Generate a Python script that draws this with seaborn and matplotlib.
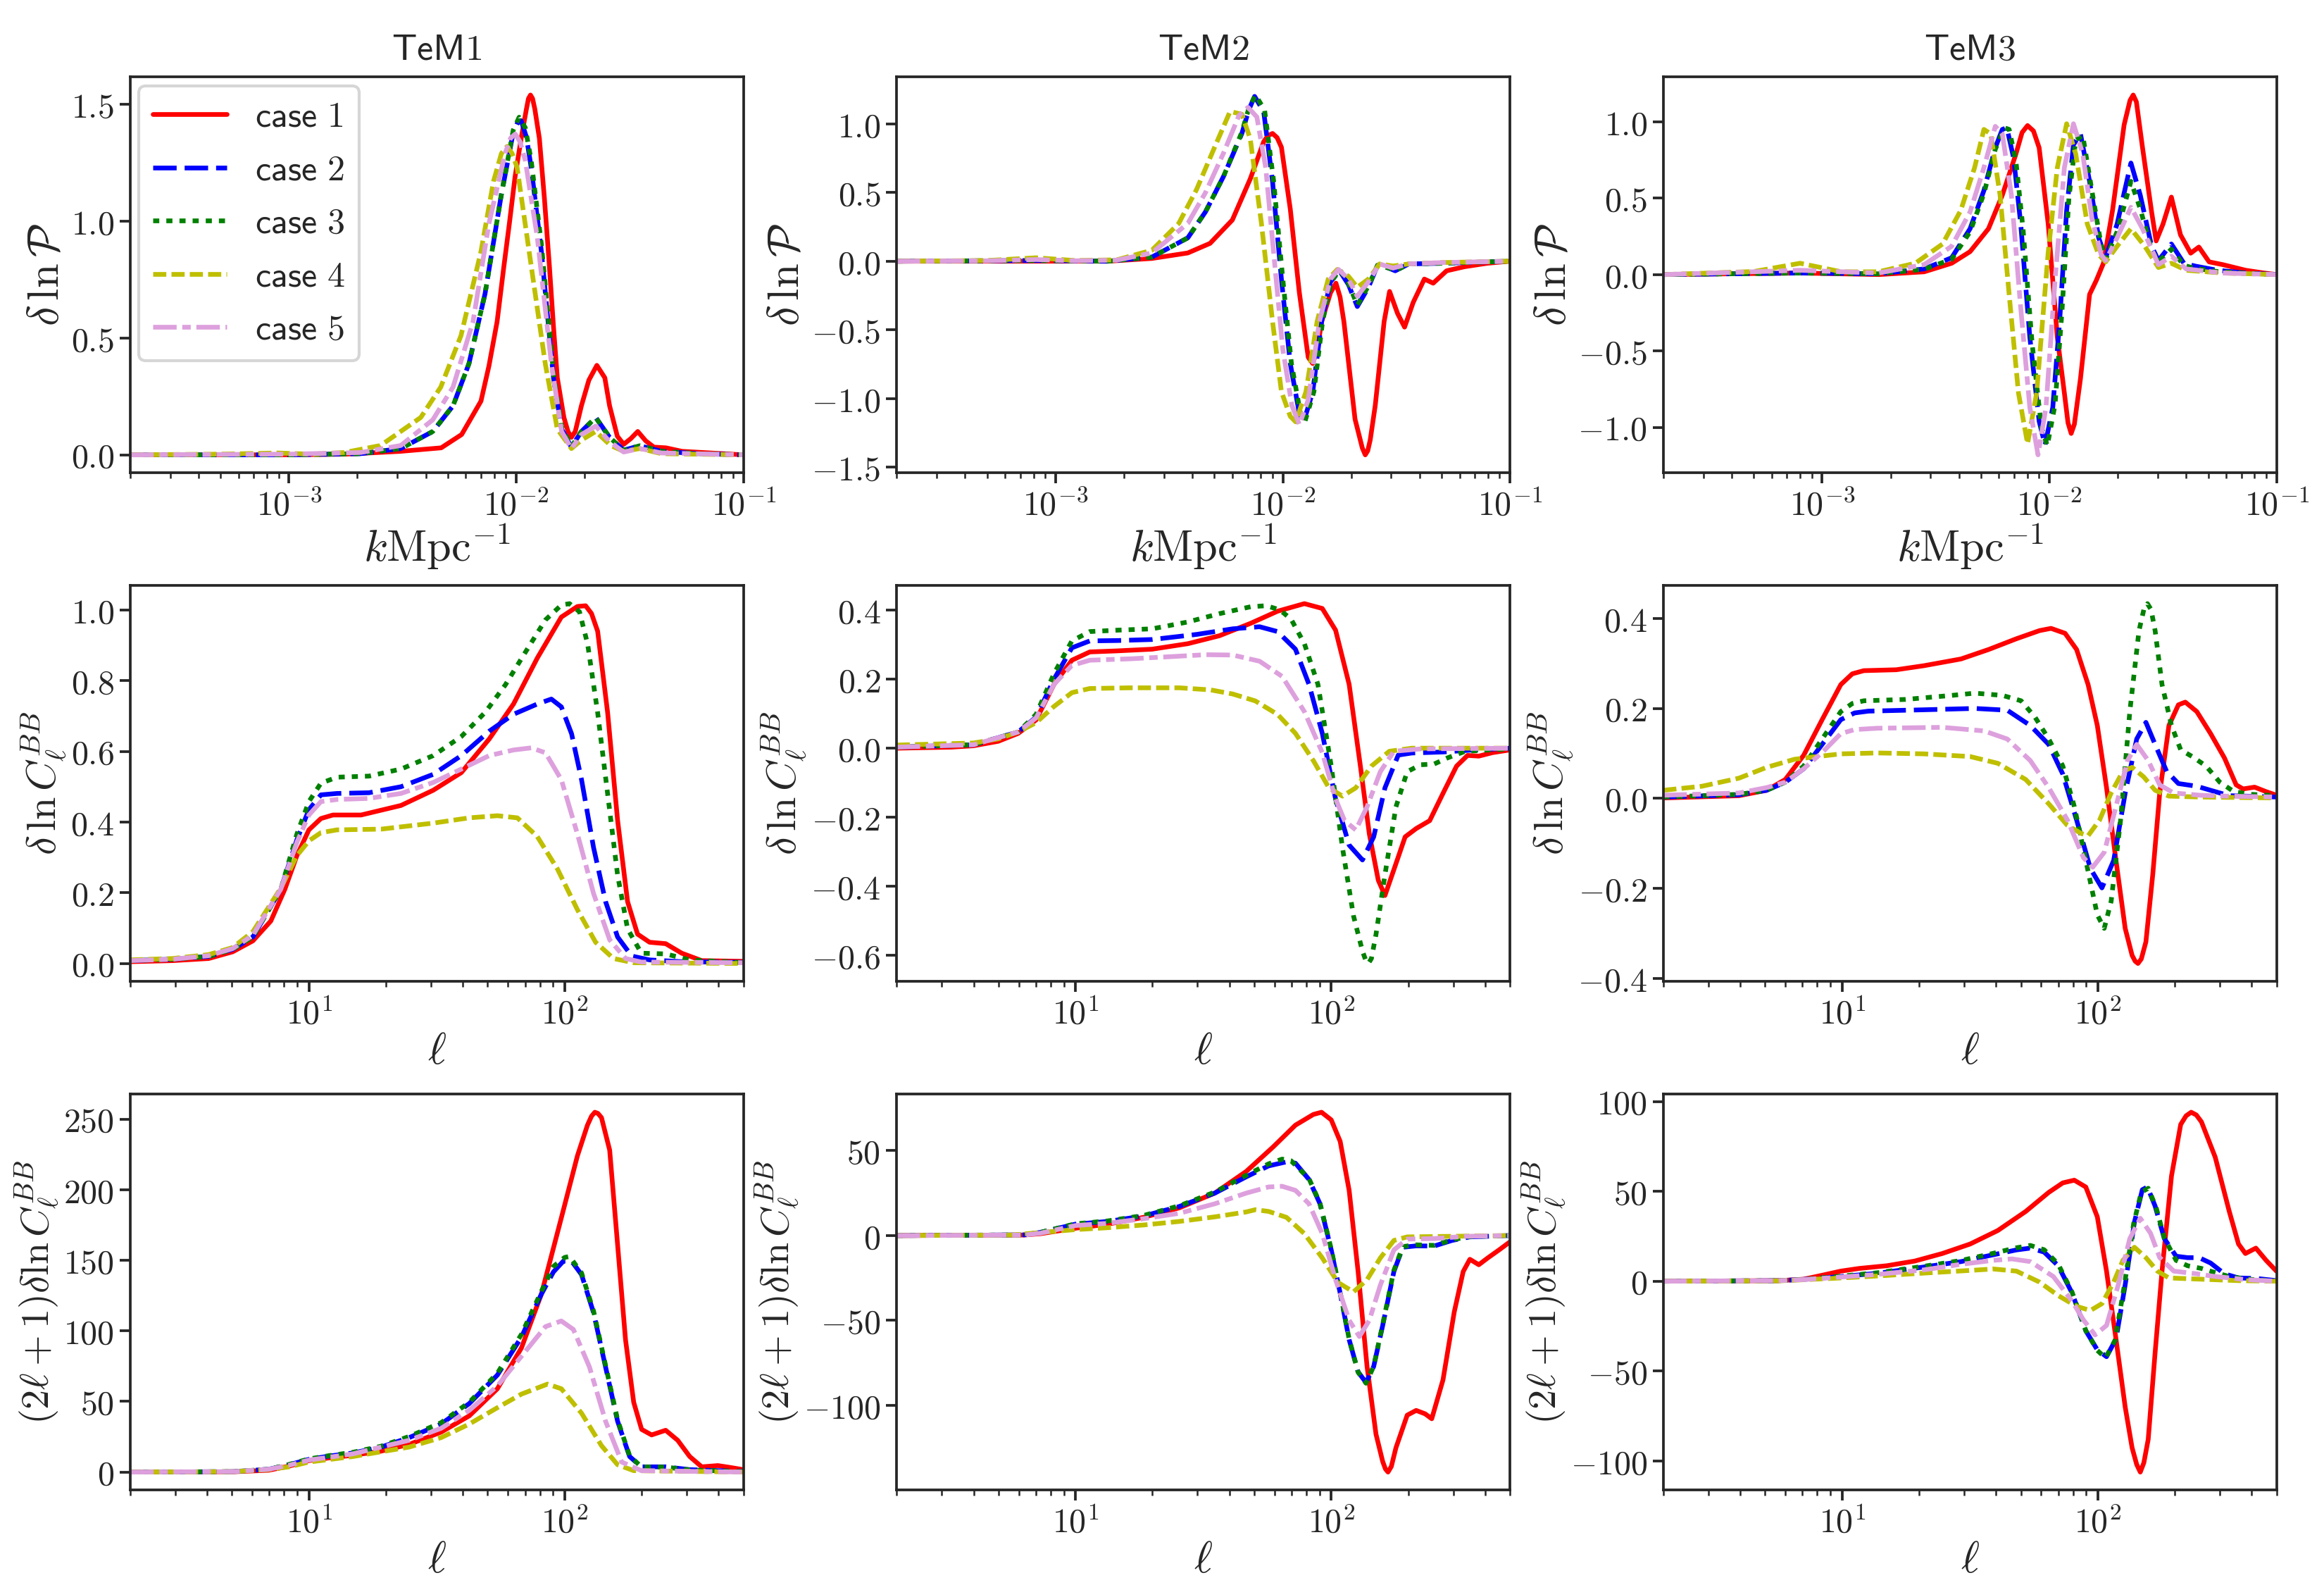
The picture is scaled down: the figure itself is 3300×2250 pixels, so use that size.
import matplotlib
matplotlib.use("Agg")
import matplotlib.pyplot as plt
from matplotlib.ticker import FuncFormatter, NullFormatter, MultipleLocator
import numpy as np
import seaborn as sns

# every curve: list of (log10 x, y) points
# --- row 1: delta ln P(k), x = log10(k / Mpc^-1)
tem1_pk_c1 = [(-3.699, 0), (-3.0, 0), (-2.75, 0.003), (-2.51, 0.015), (-2.33, 0.03), (-2.24, 0.087), (-2.155, 0.23), (-2.12, 0.38), (-2.084, 0.57), (-2.055, 0.80), (-2.03, 0.99), (-2.005, 1.19), (-1.978, 1.355), (-1.955, 1.48), (-1.946, 1.525), (-1.937, 1.54), (-1.928, 1.525), (-1.918, 1.48), (-1.898, 1.355), (-1.876, 1.10), (-1.854, 0.81), (-1.836, 0.55), (-1.819, 0.33), (-1.79, 0.16), (-1.772, 0.10), (-1.757, 0.075), (-1.74, 0.10), (-1.713, 0.21), (-1.68, 0.32), (-1.645, 0.383), (-1.61, 0.33), (-1.589, 0.21), (-1.555, 0.08), (-1.527, 0.045), (-1.495, 0.07), (-1.465, 0.10), (-1.43, 0.06), (-1.394, 0.033), (-1.341, 0.03), (-1.27, 0.015), (-1.0, 0.0)]
tem1_pk_c2 = [(-3.699, 0), (-3.0, 0), (-2.685, 0.005), (-2.508, 0.027), (-2.367, 0.10), (-2.278, 0.21), (-2.208, 0.39), (-2.137, 0.69), (-2.066, 1.11), (-2.013, 1.38), (-1.995, 1.42), (-1.978, 1.43), (-1.955, 1.36), (-1.934, 1.23), (-1.889, 0.87), (-1.836, 0.33), (-1.80, 0.11), (-1.757, 0.033), (-1.713, 0.10), (-1.65, 0.16), (-1.589, 0.075), (-1.527, 0.02), (-1.456, 0.039), (-1.36, 0.015), (-1.2, 0.005), (-1.0, 0)]
tem1_pk_c3 = [(-3.699, 0), (-3.0, 0), (-2.685, 0.005), (-2.508, 0.027), (-2.367, 0.10), (-2.278, 0.21), (-2.208, 0.39), (-2.137, 0.69), (-2.066, 1.11), (-2.013, 1.39), (-1.987, 1.445), (-1.96, 1.40), (-1.934, 1.26), (-1.889, 0.90), (-1.836, 0.35), (-1.80, 0.12), (-1.757, 0.035), (-1.713, 0.10), (-1.65, 0.16), (-1.589, 0.075), (-1.527, 0.02), (-1.456, 0.039), (-1.36, 0.015), (-1.2, 0.005), (-1.0, 0)]
tem1_pk_c4 = [(-3.699, 0), (-3.3, 0.003), (-3.05, 0.008), (-2.9, 0.003), (-2.756, 0.01), (-2.597, 0.04), (-2.42, 0.16), (-2.332, 0.29), (-2.243, 0.51), (-2.155, 0.87), (-2.10, 1.17), (-2.065, 1.29), (-2.04, 1.32), (-2.018, 1.29), (-1.996, 1.23), (-1.943, 0.87), (-1.872, 0.39), (-1.819, 0.11), (-1.757, 0.027), (-1.713, 0.063), (-1.65, 0.10), (-1.584, 0.04), (-1.527, 0.015), (-1.456, 0.027), (-1.36, 0.005), (-1.0, 0)]
tem1_pk_c5 = [(-3.699, 0), (-3.0, 0.003), (-2.685, 0.01), (-2.508, 0.04), (-2.367, 0.15), (-2.278, 0.29), (-2.19, 0.57), (-2.12, 0.99), (-2.049, 1.29), (-2.025, 1.355), (-2.004, 1.373), (-1.983, 1.34), (-1.96, 1.26), (-1.907, 0.93), (-1.845, 0.39), (-1.80, 0.10), (-1.757, 0.027), (-1.713, 0.087), (-1.65, 0.123), (-1.589, 0.057), (-1.527, 0.012), (-1.456, 0.027), (-1.36, 0.008), (-1.0, 0)]

tem2_pk_c1 = [(-3.699, 0), (-2.77, 0), (-2.576, 0.02), (-2.418, 0.06), (-2.32, 0.13), (-2.222, 0.30), (-2.143, 0.60), (-2.084, 0.87), (-2.065, 0.915), (-2.045, 0.93), (-2.025, 0.90), (-2.006, 0.83), (-1.967, 0.38), (-1.927, -0.23), (-1.888, -0.70), (-1.868, -0.745), (-1.848, -0.64), (-1.829, -0.44), (-1.79, -0.23), (-1.766, -0.16), (-1.748, -0.26), (-1.731, -0.44), (-1.682, -1.15), (-1.65, -1.36), (-1.637, -1.41), (-1.626, -1.38), (-1.615, -1.30), (-1.593, -1.05), (-1.554, -0.44), (-1.53, -0.22), (-1.495, -0.38), (-1.464, -0.48), (-1.426, -0.30), (-1.377, -0.13), (-1.338, -0.16), (-1.279, -0.07), (-1.2, -0.04), (-1.1, -0.015), (-1.0, 0)]
tem2_pk_c2 = [(-3.699, 0), (-3.086, 0.005), (-2.77, 0), (-2.576, 0.03), (-2.418, 0.17), (-2.34, 0.36), (-2.26, 0.62), (-2.18, 0.93), (-2.15, 1.10), (-2.124, 1.20), (-2.084, 1.09), (-2.045, 0.58), (-2.006, -0.13), (-1.967, -0.745), (-1.927, -1.11), (-1.908, -1.17), (-1.868, -0.95), (-1.829, -0.44), (-1.79, -0.15), (-1.75, -0.07), (-1.711, -0.17), (-1.672, -0.33), (-1.623, -0.19), (-1.583, -0.03), (-1.534, -0.05), (-1.505, -0.07), (-1.446, -0.02), (-1.3, -0.015), (-1.0, 0)]
tem2_pk_c3 = [(-3.699, 0), (-3.086, 0.005), (-2.77, 0), (-2.576, 0.03), (-2.418, 0.17), (-2.34, 0.36), (-2.26, 0.62), (-2.18, 0.94), (-2.15, 1.11), (-2.12, 1.21), (-2.08, 1.10), (-2.04, 0.58), (-2.0, -0.13), (-1.962, -0.745), (-1.922, -1.11), (-1.903, -1.17), (-1.863, -0.95), (-1.825, -0.44), (-1.787, -0.15), (-1.75, -0.06), (-1.711, -0.16), (-1.672, -0.32), (-1.623, -0.18), (-1.583, -0.03), (-1.534, -0.05), (-1.505, -0.07), (-1.446, -0.02), (-1.3, -0.015), (-1.0, 0)]
tem2_pk_c4 = [(-3.699, 0), (-3.3, 0.005), (-3.086, 0.025), (-2.915, 0.005), (-2.73, 0.01), (-2.576, 0.08), (-2.458, 0.275), (-2.38, 0.52), (-2.30, 0.83), (-2.232, 1.09), (-2.18, 1.07), (-2.143, 0.89), (-2.094, 0.275), (-2.045, -0.44), (-2.006, -0.95), (-1.967, -1.13), (-1.943, -1.17), (-1.898, -0.95), (-1.849, -0.44), (-1.80, -0.13), (-1.76, -0.06), (-1.711, -0.11), (-1.672, -0.19), (-1.623, -0.13), (-1.574, -0.02), (-1.515, -0.035), (-1.446, -0.02), (-1.3, -0.01), (-1.0, 0)]
tem2_pk_c5 = [(-3.699, 0), (-3.3, 0.003), (-3.086, 0.012), (-2.915, 0.003), (-2.73, 0.008), (-2.576, 0.06), (-2.418, 0.275), (-2.34, 0.50), (-2.26, 0.79), (-2.193, 1.06), (-2.153, 1.12), (-2.114, 1.05), (-2.075, 0.68), (-2.035, -0.03), (-2.0, -0.64), (-1.96, -1.05), (-1.927, -1.19), (-1.888, -1.01), (-1.839, -0.44), (-1.79, -0.13), (-1.755, -0.06), (-1.711, -0.13), (-1.672, -0.255), (-1.623, -0.15), (-1.574, -0.02), (-1.515, -0.05), (-1.446, -0.02), (-1.3, -0.01), (-1.0, 0)]

tem3_pk_c1 = [(-3.699, 0), (-3.097, 0.01), (-2.75, 0.0), (-2.551, 0.018), (-2.43, 0.074), (-2.349, 0.15), (-2.268, 0.30), (-2.207, 0.52), (-2.147, 0.79), (-2.12, 0.93), (-2.096, 0.975), (-2.07, 0.94), (-2.045, 0.83), (-2.005, 0.33), (-1.965, -0.41), (-1.934, -0.775), (-1.918, -0.97), (-1.904, -1.04), (-1.89, -0.98), (-1.863, -0.68), (-1.823, -0.13), (-1.793, -0.037), (-1.762, 0.074), (-1.722, 0.42), (-1.671, 0.98), (-1.645, 1.14), (-1.631, 1.175), (-1.617, 1.13), (-1.59, 0.83), (-1.55, 0.41), (-1.53, 0.22), (-1.50, 0.33), (-1.463, 0.507), (-1.423, 0.26), (-1.378, 0.14), (-1.342, 0.18), (-1.297, 0.083), (-1.237, 0.065), (-1.136, 0.028), (-1.055, 0.01), (-1.0, 0)]
tem3_pk_c2 = [(-3.699, 0), (-3.097, 0.01), (-2.753, 0.005), (-2.551, 0.037), (-2.43, 0.11), (-2.349, 0.30), (-2.288, 0.55), (-2.238, 0.83), (-2.207, 0.95), (-2.187, 0.96), (-2.157, 0.76), (-2.126, 0.33), (-2.086, -0.41), (-2.045, -0.96), (-2.019, -1.116), (-1.985, -0.87), (-1.955, -0.31), (-1.924, 0.42), (-1.894, 0.85), (-1.863, 0.92), (-1.823, 0.61), (-1.783, 0.24), (-1.752, 0.11), (-1.702, 0.33), (-1.641, 0.73), (-1.60, 0.52), (-1.55, 0.185), (-1.52, 0.092), (-1.463, 0.20), (-1.408, 0.074), (-1.357, 0.055), (-1.26, 0.028), (-1.136, 0.01), (-1.0, 0)]
tem3_pk_c3 = [(-3.699, 0), (-3.097, 0.01), (-2.753, 0.005), (-2.551, 0.035), (-2.43, 0.10), (-2.349, 0.28), (-2.288, 0.53), (-2.238, 0.82), (-2.197, 0.96), (-2.177, 0.95), (-2.147, 0.74), (-2.116, 0.30), (-2.076, -0.45), (-2.035, -1.00), (-2.009, -1.12), (-1.975, -0.85), (-1.945, -0.25), (-1.914, 0.50), (-1.884, 0.88), (-1.853, 0.91), (-1.813, 0.55), (-1.773, 0.20), (-1.752, 0.10), (-1.702, 0.28), (-1.641, 0.61), (-1.60, 0.43), (-1.55, 0.16), (-1.52, 0.085), (-1.463, 0.166), (-1.408, 0.06), (-1.357, 0.04), (-1.26, 0.02), (-1.136, 0.008), (-1.0, 0)]
tem3_pk_c4 = [(-3.699, 0), (-3.30, 0.02), (-3.097, 0.074), (-2.915, 0.018), (-2.753, 0.018), (-2.59, 0.074), (-2.47, 0.20), (-2.39, 0.42), (-2.329, 0.70), (-2.288, 0.95), (-2.258, 0.92), (-2.217, 0.52), (-2.177, -0.13), (-2.136, -0.775), (-2.096, -1.107), (-2.056, -0.775), (-2.005, 0.148), (-1.965, 0.70), (-1.924, 0.987), (-1.884, 0.79), (-1.833, 0.33), (-1.783, 0.13), (-1.752, 0.083), (-1.702, 0.185), (-1.641, 0.30), (-1.58, 0.185), (-1.52, 0.046), (-1.463, 0.074), (-1.398, 0.028), (-1.237, 0.01), (-1.0, 0)]
tem3_pk_c5 = [(-3.699, 0), (-3.097, 0.028), (-2.753, 0.01), (-2.551, 0.065), (-2.43, 0.185), (-2.349, 0.41), (-2.288, 0.70), (-2.238, 0.97), (-2.207, 0.92), (-2.167, 0.52), (-2.126, -0.22), (-2.086, -0.87), (-2.05, -1.18), (-2.015, -0.87), (-1.975, -0.037), (-1.934, 0.70), (-1.894, 0.987), (-1.853, 0.79), (-1.813, 0.37), (-1.772, 0.13), (-1.752, 0.092), (-1.702, 0.24), (-1.641, 0.44), (-1.59, 0.30), (-1.52, 0.065), (-1.463, 0.12), (-1.398, 0.037), (-1.237, 0.01), (-1.0, 0)]

# --- row 2: delta ln C_l^BB, x = log10(l)
tem1_cl_c1 = [(0.301, 0.005), (0.467, 0.008), (0.608, 0.014), (0.702, 0.033), (0.781, 0.064), (0.851, 0.12), (0.906, 0.21), (0.953, 0.305), (1.0, 0.378), (1.047, 0.41), (1.094, 0.42), (1.204, 0.42), (1.36, 0.447), (1.486, 0.49), (1.596, 0.54), (1.705, 0.635), (1.80, 0.734), (1.893, 0.864), (1.987, 0.98), (2.05, 1.01), (2.082, 1.012), (2.105, 0.99), (2.129, 0.94), (2.168, 0.71), (2.207, 0.405), (2.246, 0.175), (2.285, 0.083), (2.332, 0.06), (2.395, 0.056), (2.458, 0.029), (2.536, 0.008), (2.699, 0.006)]
tem1_cl_c2 = [(0.301, 0.008), (0.467, 0.012), (0.608, 0.02), (0.702, 0.04), (0.781, 0.075), (0.89, 0.21), (0.953, 0.35), (1.0, 0.435), (1.047, 0.477), (1.11, 0.481), (1.235, 0.483), (1.36, 0.50), (1.486, 0.535), (1.596, 0.588), (1.705, 0.657), (1.80, 0.705), (1.893, 0.734), (1.948, 0.748), (1.987, 0.726), (2.027, 0.65), (2.066, 0.52), (2.113, 0.328), (2.16, 0.175), (2.207, 0.075), (2.262, 0.021), (2.332, 0.01), (2.458, 0.005), (2.699, 0.003)]
tem1_cl_c3 = [(0.301, 0.008), (0.467, 0.012), (0.608, 0.02), (0.702, 0.04), (0.781, 0.075), (0.89, 0.21), (0.953, 0.366), (1.0, 0.458), (1.047, 0.51), (1.11, 0.527), (1.235, 0.53), (1.36, 0.55), (1.486, 0.588), (1.596, 0.642), (1.69, 0.711), (1.768, 0.788), (1.846, 0.88), (1.925, 0.972), (1.987, 1.014), (2.019, 1.018), (2.058, 0.995), (2.09, 0.903), (2.129, 0.71), (2.168, 0.48), (2.207, 0.25), (2.246, 0.098), (2.30, 0.029), (2.395, 0.027), (2.489, 0.01), (2.699, 0.002)]
tem1_cl_c4 = [(0.301, 0.01), (0.467, 0.014), (0.608, 0.025), (0.702, 0.045), (0.781, 0.09), (0.89, 0.213), (0.953, 0.305), (1.0, 0.347), (1.047, 0.37), (1.11, 0.378), (1.282, 0.38), (1.486, 0.397), (1.627, 0.412), (1.737, 0.418), (1.815, 0.412), (1.893, 0.359), (1.972, 0.267), (2.05, 0.152), (2.121, 0.06), (2.191, 0.014), (2.27, 0.002), (2.699, 0)]
tem1_cl_c5 = [(0.301, 0.008), (0.467, 0.012), (0.608, 0.022), (0.702, 0.042), (0.781, 0.08), (0.89, 0.21), (0.953, 0.343), (1.0, 0.42), (1.047, 0.458), (1.11, 0.464), (1.235, 0.467), (1.36, 0.481), (1.486, 0.512), (1.596, 0.55), (1.705, 0.588), (1.80, 0.604), (1.87, 0.61), (1.925, 0.596), (1.987, 0.52), (2.05, 0.366), (2.113, 0.198), (2.176, 0.067), (2.238, 0.014), (2.30, 0.004), (2.699, 0.002)]

tem2_cl_c1 = [(0.301, 0.0), (0.514, 0.003), (0.601, 0.007), (0.698, 0.02), (0.776, 0.043), (0.846, 0.082), (0.916, 0.185), (0.986, 0.255), (1.056, 0.279), (1.161, 0.282), (1.30, 0.287), (1.44, 0.303), (1.563, 0.326), (1.685, 0.362), (1.79, 0.397), (1.895, 0.419), (1.965, 0.405), (2.017, 0.342), (2.07, 0.185), (2.114, -0.052), (2.149, -0.249), (2.184, -0.383), (2.21, -0.427), (2.245, -0.352), (2.289, -0.257), (2.332, -0.233), (2.385, -0.21), (2.437, -0.131), (2.49, -0.052), (2.533, -0.021), (2.577, -0.023), (2.63, -0.013), (2.699, -0.005)]
tem2_cl_c2 = [(0.301, 0.003), (0.601, 0.01), (0.776, 0.047), (0.846, 0.09), (0.916, 0.20), (0.986, 0.291), (1.056, 0.311), (1.161, 0.312), (1.30, 0.315), (1.476, 0.33), (1.615, 0.346), (1.72, 0.352), (1.79, 0.338), (1.86, 0.287), (1.913, 0.185), (1.965, 0.043), (2.017, -0.147), (2.07, -0.281), (2.122, -0.324), (2.166, -0.257), (2.21, -0.115), (2.262, -0.02), (2.315, -0.014), (2.437, -0.011), (2.56, -0.005), (2.699, 0)]
tem2_cl_c3 = [(0.301, 0.003), (0.601, 0.01), (0.776, 0.047), (0.846, 0.098), (0.916, 0.216), (0.986, 0.311), (1.056, 0.338), (1.161, 0.342), (1.30, 0.346), (1.44, 0.366), (1.563, 0.39), (1.685, 0.41), (1.746, 0.413), (1.799, 0.401), (1.843, 0.374), (1.895, 0.303), (1.948, 0.185), (2.0, -0.052), (2.044, -0.289), (2.087, -0.486), (2.122, -0.588), (2.135, -0.615), (2.145, -0.624), (2.157, -0.61), (2.175, -0.54), (2.21, -0.367), (2.253, -0.17), (2.297, -0.068), (2.35, -0.048), (2.402, -0.046), (2.455, -0.028), (2.524, -0.009), (2.699, -0.002)]
tem2_cl_c4 = [(0.301, 0.009), (0.601, 0.015), (0.698, 0.027), (0.776, 0.047), (0.846, 0.074), (0.916, 0.121), (0.986, 0.161), (1.056, 0.173), (1.213, 0.175), (1.406, 0.175), (1.528, 0.169), (1.615, 0.157), (1.703, 0.137), (1.79, 0.098), (1.86, 0.043), (1.93, -0.036), (1.991, -0.115), (2.044, -0.139), (2.096, -0.115), (2.157, -0.052), (2.227, -0.009), (2.315, 0.0), (2.699, 0)]
tem2_cl_c5 = [(0.301, 0.003), (0.601, 0.01), (0.776, 0.047), (0.846, 0.088), (0.916, 0.185), (0.986, 0.24), (1.056, 0.255), (1.213, 0.259), (1.388, 0.266), (1.51, 0.271), (1.615, 0.27), (1.72, 0.252), (1.808, 0.208), (1.895, 0.106), (1.965, -0.013), (2.017, -0.147), (2.052, -0.21), (2.096, -0.237), (2.14, -0.17), (2.192, -0.068), (2.245, -0.009), (2.35, -0.002), (2.699, 0)]

tem3_cl_c1 = [(0.301, 0.001), (0.597, 0.006), (0.705, 0.018), (0.778, 0.042), (0.85, 0.096), (0.922, 0.175), (0.995, 0.253), (1.04, 0.277), (1.085, 0.284), (1.212, 0.286), (1.32, 0.295), (1.465, 0.31), (1.573, 0.331), (1.682, 0.355), (1.772, 0.373), (1.817, 0.378), (1.872, 0.367), (1.917, 0.331), (1.962, 0.253), (1.998, 0.162), (2.034, 0.024), (2.071, -0.138), (2.107, -0.289), (2.134, -0.349), (2.146, -0.362), (2.157, -0.367), (2.17, -0.357), (2.188, -0.319), (2.215, -0.168), (2.242, 0.012), (2.278, 0.162), (2.315, 0.208), (2.342, 0.214), (2.387, 0.193), (2.441, 0.144), (2.495, 0.09), (2.541, 0.03), (2.568, 0.021), (2.613, 0.025), (2.658, 0.015), (2.699, 0.007)]
tem3_cl_c2 = [(0.301, 0.003), (0.597, 0.008), (0.705, 0.018), (0.778, 0.036), (0.85, 0.066), (0.922, 0.12), (0.995, 0.175), (1.049, 0.19), (1.103, 0.194), (1.32, 0.197), (1.519, 0.20), (1.646, 0.196), (1.736, 0.162), (1.808, 0.12), (1.863, 0.054), (1.917, -0.048), (1.971, -0.156), (2.016, -0.199), (2.062, -0.138), (2.107, 0.012), (2.152, 0.132), (2.188, 0.169), (2.224, 0.12), (2.269, 0.06), (2.315, 0.033), (2.387, 0.027), (2.459, 0.015), (2.514, 0.006), (2.699, 0.003)]
tem3_cl_c3 = [(0.301, 0.003), (0.597, 0.009), (0.705, 0.018), (0.778, 0.036), (0.85, 0.072), (0.922, 0.132), (0.995, 0.193), (1.04, 0.211), (1.085, 0.217), (1.248, 0.22), (1.429, 0.229), (1.519, 0.234), (1.627, 0.229), (1.70, 0.217), (1.754, 0.181), (1.808, 0.132), (1.863, 0.072), (1.908, -0.018), (1.953, -0.138), (1.998, -0.259), (2.025, -0.289), (2.052, -0.229), (2.089, -0.048), (2.125, 0.193), (2.161, 0.373), (2.18, 0.42), (2.194, 0.433), (2.208, 0.42), (2.224, 0.373), (2.251, 0.253), (2.288, 0.162), (2.324, 0.108), (2.369, 0.093), (2.423, 0.072), (2.477, 0.036), (2.532, 0.015), (2.60, 0.009), (2.699, 0.006)]
tem3_cl_c4 = [(0.301, 0.018), (0.452, 0.027), (0.597, 0.045), (0.705, 0.069), (0.814, 0.087), (0.904, 0.093), (0.995, 0.099), (1.139, 0.101), (1.32, 0.099), (1.501, 0.093), (1.609, 0.078), (1.718, 0.042), (1.808, -0.012), (1.881, -0.06), (1.935, -0.078), (1.962, -0.083), (2.007, -0.048), (2.052, 0.012), (2.098, 0.06), (2.134, 0.069), (2.179, 0.048), (2.224, 0.018), (2.278, 0.005), (2.40, 0.003), (2.699, 0.001)]
tem3_cl_c5 = [(0.301, 0.007), (0.597, 0.012), (0.705, 0.024), (0.778, 0.036), (0.85, 0.066), (0.922, 0.102), (0.995, 0.144), (1.049, 0.153), (1.139, 0.156), (1.392, 0.158), (1.555, 0.15), (1.646, 0.132), (1.736, 0.084), (1.808, 0.024), (1.881, -0.048), (1.944, -0.132), (1.98, -0.153), (2.025, -0.12), (2.071, -0.018), (2.116, 0.084), (2.152, 0.12), (2.197, 0.084), (2.242, 0.03), (2.297, 0.012), (2.40, 0.007), (2.50, 0.005), (2.699, 0.003)]

# --- row 3: (2l+1) delta ln C_l^BB, x = log10(l)
tem1_wcl_c1 = [(0.301, 0), (0.70, 0.2), (0.843, 1.3), (0.922, 4.2), (1.0, 8.1), (1.078, 10.0), (1.172, 11.9), (1.282, 14.8), (1.392, 19.6), (1.517, 28.3), (1.627, 39.8), (1.737, 59.0), (1.831, 87.9), (1.909, 126), (1.987, 180), (2.05, 224), (2.089, 245.6), (2.105, 252), (2.118, 254.8), (2.13, 254), (2.144, 251), (2.176, 228), (2.207, 161), (2.238, 93.7), (2.27, 49.4), (2.301, 30.2), (2.34, 26.3), (2.395, 29.6), (2.442, 22.5), (2.489, 11.0), (2.536, 3.7), (2.599, 4.6), (2.646, 3.3), (2.699, 1.7)]
tem1_wcl_c2 = [(0.301, 0), (0.70, 0.3), (0.843, 2.0), (0.922, 5.2), (1.0, 9.0), (1.078, 11.3), (1.172, 13.5), (1.282, 17.7), (1.392, 24.4), (1.517, 34.0), (1.627, 48.5), (1.737, 68.7), (1.831, 95.6), (1.909, 126), (1.956, 141.7), (1.995, 149.4), (2.027, 149.4), (2.066, 139.8), (2.113, 112.9), (2.16, 74.4), (2.207, 36.0), (2.254, 11.0), (2.30, 3.7), (2.395, 3.7), (2.489, 1.7), (2.699, 0.4)]
tem1_wcl_c3 = [(0.301, 0), (0.70, 0.3), (0.843, 2.0), (0.922, 5.4), (1.0, 9.3), (1.078, 11.6), (1.172, 14.0), (1.282, 18.3), (1.392, 25.2), (1.517, 35.0), (1.627, 49.4), (1.737, 70.0), (1.831, 97.5), (1.909, 128), (1.956, 145.6), (2.0, 152.0), (2.019, 152.7), (2.066, 141.0), (2.113, 114.0), (2.16, 75.5), (2.207, 37.0), (2.254, 11.5), (2.30, 3.7), (2.395, 3.5), (2.489, 1.5), (2.699, 0.3)]
tem1_wcl_c4 = [(0.301, 0), (0.70, 0.3), (0.843, 1.8), (0.922, 3.7), (1.0, 7.1), (1.172, 11.0), (1.392, 17.7), (1.517, 24.4), (1.627, 34.0), (1.737, 45.6), (1.831, 55.2), (1.933, 62.3), (1.987, 59.0), (2.066, 41.7), (2.144, 18.7), (2.207, 5.2), (2.27, 1.0), (2.699, 0)]
tem1_wcl_c5 = [(0.301, 0), (0.70, 0.3), (0.843, 2.0), (0.922, 4.8), (1.0, 8.5), (1.172, 12.9), (1.392, 22.5), (1.517, 31.0), (1.627, 43.7), (1.737, 61.0), (1.831, 82.0), (1.925, 103), (1.987, 107), (2.034, 101), (2.097, 74.4), (2.16, 36.0), (2.223, 7.1), (2.30, 1.0), (2.699, 0)]

tem2_wcl_c1 = [(0.301, 0), (0.80, 0.3), (0.864, 1.1), (1.0, 4.3), (1.126, 6.7), (1.266, 10.7), (1.406, 16.3), (1.545, 25.0), (1.668, 37.8), (1.773, 52.2), (1.86, 65.0), (1.93, 71.3), (1.962, 72.6), (2.0, 68.1), (2.035, 55.4), (2.07, 26.6), (2.105, -21.2), (2.14, -77.1), (2.175, -117), (2.201, -133), (2.212, -137.5), (2.222, -139.3), (2.235, -136), (2.253, -125), (2.297, -105.8), (2.332, -103), (2.367, -105), (2.393, -107.9), (2.437, -85), (2.481, -45), (2.516, -21.2), (2.542, -14), (2.577, -17.2), (2.612, -13.2), (2.656, -8.5), (2.699, -3.7)]
tem2_wcl_c2 = [(0.301, 0), (0.80, 0.4), (0.864, 1.9), (1.0, 6.7), (1.126, 8.3), (1.266, 11.5), (1.406, 17.1), (1.545, 25.0), (1.668, 34.6), (1.755, 41.0), (1.825, 43.4), (1.86, 42.6), (1.913, 33.0), (1.956, 18.7), (2.0, -8.5), (2.035, -34), (2.07, -61.3), (2.105, -80.3), (2.136, -86.6), (2.166, -77.1), (2.201, -53.1), (2.245, -21.2), (2.28, -6.9), (2.332, -6.1), (2.402, -6.2), (2.472, -2.9), (2.542, -0.8), (2.699, 0)]
tem2_wcl_c3 = [(0.301, 0), (0.80, 0.4), (0.864, 1.9), (1.0, 6.9), (1.126, 8.6), (1.266, 11.8), (1.406, 17.5), (1.545, 25.6), (1.668, 35.5), (1.755, 42.2), (1.808, 45.0), (1.843, 44.0), (1.913, 33.5), (1.956, 19.0), (2.0, -8.0), (2.035, -33.5), (2.07, -61.0), (2.105, -80.5), (2.136, -87.0), (2.166, -77.0), (2.201, -52.5), (2.245, -20.5), (2.28, -6.5), (2.332, -5.5), (2.402, -5.8), (2.472, -2.5), (2.542, -0.6), (2.699, 0)]
tem2_wcl_c4 = [(0.301, 0), (0.75, 0.3), (1.0, 3.5), (1.126, 4.6), (1.266, 6.2), (1.406, 8.3), (1.545, 11.0), (1.668, 13.9), (1.703, 15.2), (1.755, 14.2), (1.825, 10.7), (1.895, 1.1), (1.965, -13.2), (2.026, -27.6), (2.087, -33.2), (2.14, -26.0), (2.192, -13.2), (2.245, -2.9), (2.297, -0.8), (2.699, 0)]
tem2_wcl_c5 = [(0.301, 0), (0.80, 0.3), (0.864, 1.4), (1.0, 5.9), (1.126, 7.2), (1.266, 9.9), (1.406, 13.1), (1.545, 18.7), (1.668, 25.0), (1.755, 28.6), (1.808, 29.0), (1.86, 26.6), (1.913, 18.7), (1.965, 1.1), (2.017, -26.0), (2.07, -49.9), (2.11, -59.5), (2.149, -49.9), (2.192, -29.2), (2.245, -8.5), (2.297, -2.1), (2.402, -1.8), (2.524, -0.5), (2.699, 0)]

tem3_wcl_c1 = [(0.301, 0), (0.75, 0.3), (0.85, 1.1), (0.922, 3.3), (0.995, 5.6), (1.067, 7.1), (1.175, 8.6), (1.284, 11.2), (1.392, 15.4), (1.501, 20.7), (1.609, 28.2), (1.718, 38.8), (1.808, 49.4), (1.863, 54.7), (1.908, 56.2), (1.953, 52.4), (1.998, 35.8), (2.034, 5.6), (2.071, -32.2), (2.107, -70.0), (2.134, -92.7), (2.152, -102), (2.166, -106.2), (2.18, -101), (2.197, -88.0), (2.224, -39.7), (2.251, 5.6), (2.288, 58.5), (2.324, 87.2), (2.345, 92.0), (2.365, 94.0), (2.385, 92.5), (2.405, 88.7), (2.459, 69.0), (2.514, 38.8), (2.55, 20.7), (2.577, 15.4), (2.618, 18.4), (2.658, 11.6), (2.699, 5.5)]
tem3_wcl_c2 = [(0.301, 0), (0.75, 0.3), (0.85, 1.0), (0.995, 2.6), (1.139, 4.4), (1.32, 7.9), (1.465, 10.9), (1.591, 14.7), (1.682, 17.4), (1.736, 18.4), (1.79, 16.2), (1.845, 8.6), (1.899, -6.5), (1.953, -27.6), (1.998, -38.2), (2.034, -42.0), (2.071, -32.2), (2.107, -2.0), (2.143, 32.8), (2.174, 50.9), (2.194, 52.4), (2.224, 41.8), (2.26, 23.7), (2.306, 13.9), (2.351, 13.1), (2.396, 13.1), (2.441, 10.1), (2.495, 4.1), (2.55, 1.8), (2.622, 1.5), (2.699, 0.3)]
tem3_wcl_c3 = [(0.301, 0), (0.75, 0.3), (0.85, 1.0), (0.995, 2.8), (1.139, 4.7), (1.32, 8.3), (1.465, 11.5), (1.591, 15.5), (1.682, 18.6), (1.736, 19.9), (1.79, 17.5), (1.845, 9.5), (1.899, -6.0), (1.953, -27.5), (1.998, -38.5), (2.03, -42.7), (2.067, -33.0), (2.103, -3.0), (2.14, 32.0), (2.17, 49.5), (2.197, 51.7), (2.228, 41.0), (2.26, 24.0), (2.306, 11.6), (2.351, 8.6), (2.405, 7.1), (2.459, 4.8), (2.514, 2.6), (2.586, 1.1), (2.699, 0)]
tem3_wcl_c4 = [(0.301, 0), (0.75, 0.2), (0.85, 0.8), (0.995, 1.8), (1.139, 2.9), (1.32, 4.5), (1.501, 6.0), (1.591, 6.8), (1.682, 5.6), (1.772, -0.5), (1.845, -8.0), (1.917, -14.0), (1.971, -16.3), (2.016, -12.5), (2.062, -0.5), (2.098, 11.6), (2.143, 18.9), (2.188, 13.1), (2.233, 5.6), (2.278, 1.8), (2.405, 1.1), (2.55, 0.3), (2.699, 0)]
tem3_wcl_c5 = [(0.301, 0), (0.75, 0.3), (0.85, 0.9), (0.995, 2.3), (1.139, 3.8), (1.32, 6.3), (1.465, 9.4), (1.591, 11.6), (1.664, 12.4), (1.736, 10.9), (1.826, 2.6), (1.899, -11.0), (1.944, -21.6), (1.989, -29.9), (2.034, -24.6), (2.08, -2.0), (2.125, 23.7), (2.166, 35.0), (2.206, 26.7), (2.242, 13.1), (2.297, 5.6), (2.387, 4.1), (2.459, 2.6), (2.586, 0.8), (2.699, 0)]

models = ["TeM1", "TeM2", "TeM3"]
case_labels = ["case 1", "case 2", "case 3", "case 4", "case 5"]
case_colors = ["r", "b", "g", "y", "plum"]
case_styles = ["-", (0, (5, 1.7)), (0, (1.3, 1.5)), (0, (2.8, 1.1)), (0, (5, 1.2, 1.8, 1.2))]

panels = [
    [tem1_pk_c1, tem1_pk_c2, tem1_pk_c3, tem1_pk_c4, tem1_pk_c5],
    [tem2_pk_c1, tem2_pk_c2, tem2_pk_c3, tem2_pk_c4, tem2_pk_c5],
    [tem3_pk_c1, tem3_pk_c2, tem3_pk_c3, tem3_pk_c4, tem3_pk_c5],
    [tem1_cl_c1, tem1_cl_c2, tem1_cl_c3, tem1_cl_c4, tem1_cl_c5],
    [tem2_cl_c1, tem2_cl_c2, tem2_cl_c3, tem2_cl_c4, tem2_cl_c5],
    [tem3_cl_c1, tem3_cl_c2, tem3_cl_c3, tem3_cl_c4, tem3_cl_c5],
    [tem1_wcl_c1, tem1_wcl_c2, tem1_wcl_c3, tem1_wcl_c4, tem1_wcl_c5],
    [tem2_wcl_c1, tem2_wcl_c2, tem2_wcl_c3, tem2_wcl_c4, tem2_wcl_c5],
    [tem3_wcl_c1, tem3_wcl_c2, tem3_wcl_c3, tem3_wcl_c4, tem3_wcl_c5],
]
row_ylabels = [r"$\delta\,\ln\mathcal{P}$", r"$\delta\,\ln C_\ell^{BB}$", r"$(2\ell+1)\delta\ln C_\ell^{BB}$"]
row_ylabel_size = [15, 14, 13.5]
row_xlabels = [r"$k\mathrm{Mpc}^{-1}$", r"$\ell$", r"$\ell$"]
row_xlims = [(2e-4, 1e-1), (2, 500), (2, 500)]
row_ystep = [0.5, 0.2, 50]
row_yfmt = ["%.1f", "%.1f", "%d"]

sns.set_style("ticks")
plt.rcParams["mathtext.fontset"] = "cm"
plt.rcParams["font.family"] = ["DejaVu Sans"]
plt.rcParams["axes.edgecolor"] = "0.15"
plt.rcParams["axes.linewidth"] = 0.9

fig, axes = plt.subplots(3, 3, figsize=(11, 7.5))
plt.subplots_adjust(left=0.056, right=0.9796, top=0.9514, bottom=0.0599, wspace=0.25, hspace=0.285)

for i in range(9):
    row, col = i // 3, i % 3
    ax = axes[row][col]
    for j in range(5):
        pts = np.array(panels[i][j])
        sns.lineplot(x=10 ** pts[:, 0], y=pts[:, 1], ax=ax, color=case_colors[j],
                     linestyle=case_styles[j], linewidth=1.6,
                     label=r"$\mathsf{%s}$" % case_labels[j].replace(" ", r"\ "),
                     legend=False, errorbar=None, sort=False)
    ax.set_xscale("log")
    ax.set_xlim(*row_xlims[row])
    fmt = row_yfmt[row]
    ax.yaxis.set_major_locator(MultipleLocator(row_ystep[row]))
    ax.yaxis.set_major_formatter(FuncFormatter(lambda v, p, fmt=fmt: r"$%s$" % (fmt % (round(v, 6) + 0.0))))
    ax.xaxis.set_major_formatter(FuncFormatter(lambda v, p: r"$10^{%d}$" % round(np.log10(v))))
    ax.xaxis.set_minor_formatter(NullFormatter())
    ax.tick_params(axis="both", which="major", labelsize=11.5, length=3.5, width=0.9, pad=2)
    ax.tick_params(axis="both", which="minor", length=2, width=0.6)
    ax.set_xlabel(row_xlabels[row], fontsize=15, labelpad=0)
    ax.set_ylabel(row_ylabels[row], fontsize=row_ylabel_size[row], labelpad=1)
    if row == 0:
        ax.set_title(r"$\mathsf{%s}$" % models[col], fontsize=12.5)

axes[0][0].legend(loc="upper left", fontsize=12, handlelength=2.1, labelspacing=0.55, borderaxespad=0.25)

fig.savefig("out.png", dpi=300)
